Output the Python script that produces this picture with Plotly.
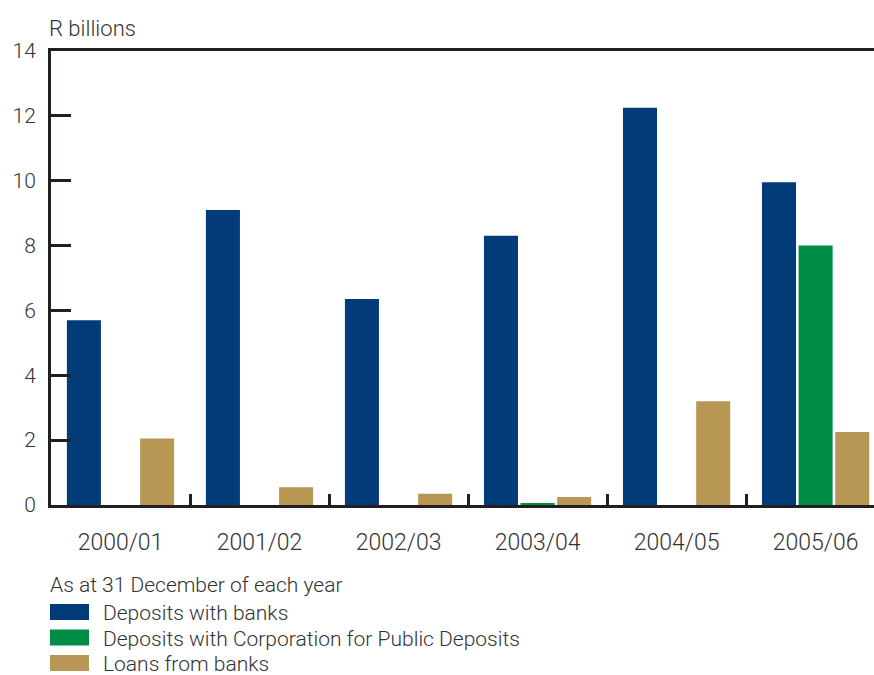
import plotly.graph_objects as go

# Financial years shown on the category axis
years = ["2000/01", "2001/02", "2002/03", "2003/04", "2004/05", "2005/06"]

# R billions, as at 31 December of each year
deposits_banks = [5.7, 9.1, 6.35, 8.3, 12.25, 9.95]
deposits_cpd = [0, 0, 0, 0.05, 0, 8.0]
loans_banks = [2.05, 0.55, 0.35, 0.25, 3.2, 2.25]

series_names = [
    "Deposits with banks",
    "Deposits with Corporation for Public Deposits",
    "Loans from banks",
]
series_colors = ["#023b7a", "#008c45", "#b89653"]

FONT = "Roboto"
TEXT = "#333333"
AXIS = "#231f20"

fig = go.Figure()
for name, vals, col in zip(series_names, [deposits_banks, deposits_cpd, loans_banks], series_colors):
    fig.add_trace(go.Bar(x=years, y=vals, name=name, marker=dict(color=col, line_width=0),
                         showlegend=False))

fig.update_layout(
    width=874, height=675,
    margin=dict(l=51, r=0, t=51, b=170),
    paper_bgcolor="white", plot_bgcolor="white",
    barmode="group", bargap=0.21, bargroupgap=0.07,
    font=dict(family=FONT, size=21, color=TEXT, weight=300),
)

fig.update_xaxes(
    type="category", range=[-0.5, 5.42],
    showline=True, linecolor=AXIS, linewidth=3, mirror=True,
    ticks="inside", tickson="boundaries", ticklen=11, tickwidth=2.5, tickcolor=AXIS,
    ticklabelstandoff=14, showgrid=False, zeroline=False,
    tickfont=dict(family=FONT, size=23, color=TEXT, weight=300),
)
fig.update_yaxes(
    range=[0, 14], tickvals=[0, 2, 4, 6, 8, 10, 12, 14],
    showline=True, linecolor=AXIS, linewidth=3,
    ticks="inside", ticklen=20, tickwidth=2.5, tickcolor=AXIS,
    ticklabelstandoff=8, showgrid=False, zeroline=False,
    tickfont=dict(family=FONT, size=21, color=TEXT, weight=300),
)

# Unit label above the value axis
fig.add_annotation(text="R billions", xref="paper", yref="paper", x=-0.005, y=1.0,
                   yshift=8, xanchor="left", yanchor="bottom", showarrow=False,
                   font=dict(family=FONT, size=22, color=TEXT, weight=300))

# Legend block beneath the chart
plot_h = 675 - 51 - 170
plot_w = 874 - 51

def py(pix):
    return (675 - 170 - pix) / plot_h

def px(pix):
    return (pix - 51) / plot_w

fig.add_annotation(text="As at 31 December of each year", xref="paper", yref="paper",
                   x=px(48), y=py(585), xanchor="left", yanchor="middle", showarrow=False,
                   font=dict(family=FONT, size=21, color=TEXT, weight=300))
for i, (name, col) in enumerate(zip(series_names, series_colors)):
    yc = 612 + i * 25.5
    fig.add_shape(type="rect", xref="paper", yref="paper",
                  x0=px(50), x1=px(89), y0=py(yc - 8), y1=py(yc + 8),
                  fillcolor=col, line_width=0)
    fig.add_annotation(text=name, xref="paper", yref="paper",
                       x=px(101), y=py(yc + 1), xanchor="left", yanchor="middle", showarrow=False,
                       font=dict(family=FONT, size=21, color=TEXT, weight=300))

fig.write_html("out.html")
